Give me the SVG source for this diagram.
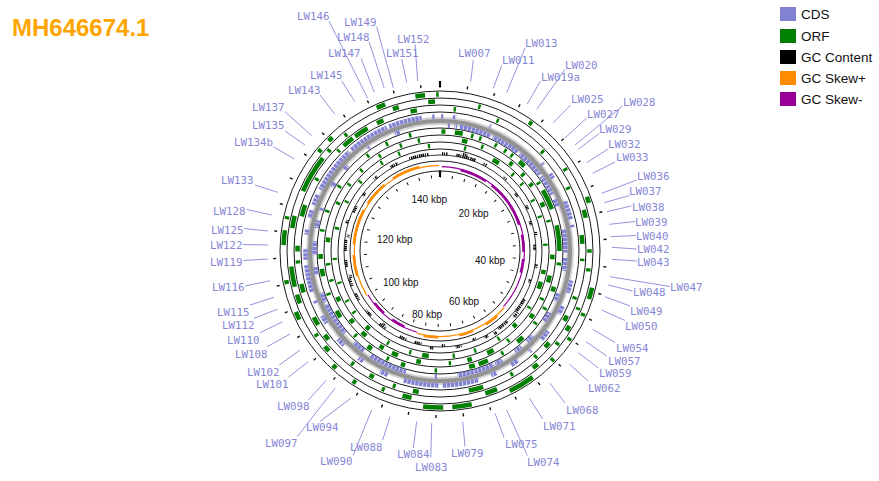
<svg xmlns="http://www.w3.org/2000/svg" width="879" height="481" viewBox="0 0 879 481">
<style>
.ring{fill:none;stroke:#1a1a1a;stroke-width:1}
.orf{fill:none;stroke:#008000;stroke-width:4.5}
.cds{fill:none;stroke:#8282d4;stroke-width:4.5}
.tk{fill:none;stroke:#111;stroke-width:3}
.lb{font-family:"DejaVu Sans Mono",monospace;font-size:10.8px;fill:#8686d6}
.ld{stroke:#9494dc;stroke-width:1}
.kb{font-family:"Liberation Sans",Arial,sans-serif;font-size:10px;fill:#111}
.lg{font-family:"Liberation Sans",Arial,sans-serif;font-size:13.5px;fill:#111}
</style>
<defs>
<mask id="spk" maskUnits="userSpaceOnUse" x="0" y="0" width="879" height="481">
<circle cx="440" cy="251" r="96" fill="none" stroke="#fff" stroke-width="12" stroke-dasharray="1.2 0.5 1.6 0.8 0.9 1.1 1.4 0.6"/>
</mask>
<mask id="cdsm" maskUnits="userSpaceOnUse" x="0" y="0" width="879" height="481">
<circle cx="440" cy="251" r="134.5" fill="none" stroke="#fff" stroke-width="6" stroke-dasharray="3.3 0.7"/>
<circle cx="440" cy="251" r="125.5" fill="none" stroke="#fff" stroke-width="6" stroke-dasharray="3.3 0.7"/>
</mask>
</defs>
<rect width="879" height="481" fill="#fff"/>
<text x="12" y="36" font-family="Liberation Sans,Arial,sans-serif" font-size="24" font-weight="bold" fill="#FFA500">MH646674.1</text>

<g id="legend">
<rect x="780" y="7" width="16" height="14" fill="#8282d4"/><text class="lg" x="801" y="19">CDS</text>
<rect x="780" y="29" width="16" height="14" fill="#008000"/><text class="lg" x="801" y="41">ORF</text>
<rect x="780" y="50" width="16" height="14" fill="#000"/><text class="lg" x="801" y="62">GC Content</text>
<rect x="780" y="71" width="16" height="14" fill="#FF8C00"/><text class="lg" x="801" y="83">GC Skew+</text>
<rect x="780" y="92" width="16" height="14" fill="#990099"/><text class="lg" x="801" y="104">GC Skew-</text>
</g>

<g id="map">
<circle class="ring" cx="440" cy="251" r="160"/>
<circle class="ring" cx="440" cy="251" r="153"/>
<circle class="ring" cx="440" cy="251" r="146"/>
<circle class="ring" cx="440" cy="251" r="139"/>
<circle class="ring" cx="440" cy="251" r="123"/>
<circle class="ring" cx="440" cy="251" r="116"/>
<circle class="ring" cx="440" cy="251" r="109"/>
<circle class="ring" cx="440" cy="251" r="102"/>
<circle class="ring" cx="440" cy="251" r="90"/>
<circle class="ring" cx="440" cy="251" r="80"/>
<circle cx="440" cy="251" r="130" fill="none" stroke="#c8c8c8" stroke-width="8" opacity="0.8"/>
<circle cx="440" cy="251" r="130" fill="none" stroke="#939393" stroke-width="4.2"/>
</g>

<g id="tracks" transform="rotate(-90 440 251)">
<circle id="orf-f3" class="orf" cx="440" cy="251" r="156.5" pathLength="1508" stroke-dasharray="0 145 6 141 10 132 18 23 5 38 5 36 5 38 41 62 30 14 31 110 6 32 7 87 13 45 6 54 23 17 5 110 6 17 8 82 14 48 15 17 4 100"/>
<circle id="orf-f2" class="orf" cx="440" cy="251" r="149.5" pathLength="1508" stroke-dasharray="0 62 4 170 5 69 13 51 6 25 5 60 4 29 9 23 5 43 10 67 20 120 15 30 5 105 10 20 5 55 15 13 33 62 20 42 62 13 5 32 5 84 10 48 11 100"/>
<circle id="orf-f1" class="orf" cx="440" cy="251" r="142.5" pathLength="1508" stroke-dasharray="0 23 4 71 4 88 5 70 5 80 15 25 4 61 5 30 10 45 10 20 5 45 5 50 25 85 10 30 5 35 8 32 5 55 10 20 15 45 15 35 5 15 10 50 20 45 5 56 4 10 20 5 25 18 12 48 11 100"/>
<g mask="url(#cdsm)">
<circle id="cds-fwd" class="cds" cx="440" cy="251" r="134.5" pathLength="1508" stroke-dasharray="0 2 5 16 6 61 4 111 5 20 10 46 34 10 5 95 23 25 16 36 20 25 5 25 15 30 10 24 66 6 64 30 15 35 10 35 15 35 15 25 5 16 50 9 20 25 10 20 15 10 20 10 85 5 75 5 60 19 5 100"/>
<circle id="cds-rev" class="cds" cx="440" cy="251" r="125.5" pathLength="1508" stroke-dasharray="0 14 5 9 5 5 62 4 56 5 55 5 40 10 15 45 45 10 25 45 15 25 20 35 15 15 15 30 15 3 72 40 5 55 75 15 25 25 66 4 20 35 15 23 27 25 15 20 5 45 10 30 10 50 5 55 10 100"/>
</g>
<circle id="orf-r1" class="orf" cx="440" cy="251" r="119.5" pathLength="1508" stroke-dasharray="0 3 8 19 16 17 5 12 5 29 5 17 5 11 5 17 14 42 5 14 42 34 52 23 6 44 10 35 5 30 5 35 15 35 5 30 20 8 12 65 5 60 9 26 5 35 10 30 5 45 15 35 5 35 15 20 10 45 5 35 5 50 5 80 5 40 5 45 5 100"/>
<circle id="orf-r2" class="orf" cx="440" cy="251" r="112.5" pathLength="1508" stroke-dasharray="0 47 12 31 5 65 8 27 7 20 8 40 10 30 5 70 10 35 15 35 5 35 10 65 5 35 15 35 10 35 5 60 10 41 14 20 10 36 12 27 10 45 10 35 5 30 5 45 10 73 6 41 5 35 5 45 5 45 5 35 5 100"/>
<circle id="orf-r3" class="orf" cx="440" cy="251" r="105.5" pathLength="1508" stroke-dasharray="0 55 5 66 16 38 5 25 5 40 5 35 5 60 5 55 10 18 17 45 5 45 10 40 5 55 5 45 5 55 15 25 5 50 5 50 10 40 5 25 5 40 5 50 5 65 6 59 5 50 5 60 5 40 5 65 5 100"/>
</g>

<g id="gc-content">
<circle cx="440" cy="251" r="96" fill="none" stroke="#000" stroke-width="0.8"/>
<g mask="url(#spk)" transform="rotate(-90 440 251)">
<circle cx="440" cy="251" r="97.4" fill="none" stroke="#000" stroke-width="2.8" pathLength="1508" stroke-dasharray="0 5 15 20 50 20 10 50 10 80 10 60 10 70 10 80 40 30 30 30 10 60 15 55 10 420 10 120 10 40 20 30 50 100"/>
<circle cx="440" cy="251" r="99" fill="none" stroke="#000" stroke-width="3.2" pathLength="1508" stroke-dasharray="0 55 12 470 15 55 8 925 20 100"/>
<circle cx="440" cy="251" r="94.6" fill="none" stroke="#000" stroke-width="2.8" pathLength="1508" stroke-dasharray="0 220 10 70 10 50 15 75 10 200 10 70 10 50 20 20 20 40 20 30 20 30 20 20 20 30 20 20 30 70 20 30 10 300"/>
<circle cx="440" cy="251" r="93" fill="none" stroke="#000" stroke-width="3.2" pathLength="1508" stroke-dasharray="0 905 10 145 10 95 8 500"/>
</g>
</g>

<g id="gc-skew" transform="rotate(-90 440 251)">
<circle cx="440" cy="251" r="85.6" fill="none" stroke="#FF8C00" stroke-width="1.2" pathLength="1508" stroke-dasharray="0 550 270 180 505 100"/>
<circle cx="440" cy="251" r="86.4" fill="none" stroke="#FF8C00" stroke-width="2.6" pathLength="1508" stroke-dasharray="0 580 40 40 40 60 40 260 60 30 100 20 70 30 80 100"/>
<circle cx="440" cy="251" r="84.4" fill="none" stroke="#990099" stroke-width="1.2" pathLength="1508" stroke-dasharray="0 5 545 270 180 600"/>
<circle cx="440" cy="251" r="83.6" fill="none" stroke="#990099" stroke-width="2.6" pathLength="1508" stroke-dasharray="0 60 80 20 140 30 50 20 40 420 40 30 40 600"/>
</g>

<g id="ticks">
<g transform="rotate(-90 440 251)">
<circle class="tk" cx="440" cy="251" r="74.5" pathLength="1508" stroke-dasharray="3.2 36.8" stroke-dashoffset="1.6"/>
<circle class="tk" cx="440" cy="251" r="165.5" pathLength="1508" stroke-dasharray="2 38" stroke-dashoffset="1"/>
</g>
<line x1="440" y1="170.5" x2="440" y2="177" stroke="#000" stroke-width="2.2"/>
<line x1="440" y1="81" x2="440" y2="87.5" stroke="#000" stroke-width="2.2"/>
<text class="kb" x="411.5" y="203">140 kbp</text>
<text class="kb" x="458.5" y="217">20 kbp</text>
<text class="kb" x="377" y="243">120 kbp</text>
<text class="kb" x="475" y="263.5">40 kbp</text>
<text class="kb" x="383" y="286">100 kbp</text>
<text class="kb" x="449" y="305">60 kbp</text>
<text class="kb" x="412" y="317.5">80 kbp</text>
</g>

<g id="connectors">
<line class="ld" x1="470.7" y1="81.7" x2="473.3" y2="60"/>
<line class="ld" x1="493.3" y1="88.3" x2="501.7" y2="65.5"/>
<line class="ld" x1="506.7" y1="92.7" x2="525" y2="48"/>
<line class="ld" x1="527.3" y1="104" x2="540.5" y2="81"/>
<line class="ld" x1="536.7" y1="109.3" x2="565" y2="69.5"/>
<line class="ld" x1="553.3" y1="122.7" x2="570.7" y2="105"/>
<line class="ld" x1="565" y1="138" x2="586.7" y2="118"/>
<line class="ld" x1="575" y1="145" x2="622.7" y2="106"/>
<line class="ld" x1="578.3" y1="149.3" x2="599.3" y2="133.5"/>
<line class="ld" x1="586.7" y1="162.7" x2="608" y2="149"/>
<line class="ld" x1="592.7" y1="173.3" x2="615" y2="162"/>
<line class="ld" x1="601.7" y1="193.3" x2="636.7" y2="180"/>
<line class="ld" x1="604.3" y1="202.7" x2="629.3" y2="195.5"/>
<line class="ld" x1="606.7" y1="211.7" x2="631.5" y2="206"/>
<line class="ld" x1="609.3" y1="224.3" x2="635" y2="221.5"/>
<line class="ld" x1="610.7" y1="236.7" x2="636" y2="235.5"/>
<line class="ld" x1="611.7" y1="247.3" x2="636.7" y2="249"/>
<line class="ld" x1="611.7" y1="259.3" x2="636.7" y2="261"/>
<line class="ld" x1="610" y1="276.7" x2="670" y2="286.5"/>
<line class="ld" x1="608.3" y1="285" x2="632.7" y2="291"/>
<line class="ld" x1="605" y1="296.7" x2="630" y2="306"/>
<line class="ld" x1="601.7" y1="310" x2="625" y2="320.5"/>
<line class="ld" x1="592.7" y1="329.3" x2="615" y2="342.5"/>
<line class="ld" x1="586" y1="341.7" x2="606.7" y2="356"/>
<line class="ld" x1="578.3" y1="352.7" x2="598.3" y2="368"/>
<line class="ld" x1="569.3" y1="364" x2="588.3" y2="381"/>
<line class="ld" x1="550" y1="383.3" x2="565" y2="403"/>
<line class="ld" x1="529.3" y1="398.3" x2="542.7" y2="419"/>
<line class="ld" x1="506.7" y1="410" x2="527.3" y2="455.5"/>
<line class="ld" x1="495" y1="413.3" x2="504" y2="437.5"/>
<line class="ld" x1="462.7" y1="421.7" x2="465" y2="446.5"/>
<line class="ld" x1="431.7" y1="423.3" x2="430.7" y2="457.5"/>
<line class="ld" x1="416.7" y1="421.7" x2="413.3" y2="448"/>
<line class="ld" x1="390" y1="416.7" x2="382.7" y2="440"/>
<line class="ld" x1="371.7" y1="410" x2="353.3" y2="455"/>
<line class="ld" x1="350.7" y1="398.3" x2="320" y2="421.5"/>
<line class="ld" x1="335" y1="388.3" x2="297.3" y2="436.5"/>
<line class="ld" x1="326" y1="380.7" x2="308.3" y2="400"/>
<line class="ld" x1="308.3" y1="361.7" x2="288.3" y2="377.3"/>
<line class="ld" x1="300" y1="350" x2="279.3" y2="365"/>
<line class="ld" x1="290" y1="334" x2="267.3" y2="346.7"/>
<line class="ld" x1="282.7" y1="321.7" x2="260" y2="332.7"/>
<line class="ld" x1="277.3" y1="309.3" x2="254" y2="318.3"/>
<line class="ld" x1="274" y1="297.3" x2="250" y2="305"/>
<line class="ld" x1="270" y1="280.7" x2="245" y2="286"/>
<line class="ld" x1="268.3" y1="259" x2="243.3" y2="260.5"/>
<line class="ld" x1="268.3" y1="245" x2="242.7" y2="244.5"/>
<line class="ld" x1="268.3" y1="231" x2="244" y2="228.5"/>
<line class="ld" x1="271.7" y1="215" x2="246.7" y2="209.5"/>
<line class="ld" x1="277.7" y1="192.3" x2="255" y2="185"/>
<line class="ld" x1="294.3" y1="159" x2="273.3" y2="146.7"/>
<line class="ld" x1="305" y1="145" x2="285" y2="131"/>
<line class="ld" x1="311.7" y1="135.7" x2="285" y2="111.7"/>
<line class="ld" x1="335" y1="114.3" x2="320" y2="95"/>
<line class="ld" x1="355" y1="101.7" x2="341.7" y2="81"/>
<line class="ld" x1="367.7" y1="98.3" x2="329" y2="21"/>
<line class="ld" x1="374.3" y1="92.3" x2="361" y2="58.3"/>
<line class="ld" x1="384.3" y1="88.3" x2="369" y2="41.7"/>
<line class="ld" x1="393.3" y1="87.7" x2="376.7" y2="26.7"/>
<line class="ld" x1="406.7" y1="82.3" x2="401.7" y2="59"/>
<line class="ld" x1="417.7" y1="81" x2="415" y2="44.3"/>
</g>

<g id="labels">
<text id="LW007" class="lb" x="458" y="57">LW007</text>
<text id="LW011" class="lb" x="502" y="64">LW011</text>
<text id="LW013" class="lb" x="525" y="47">LW013</text>
<text id="LW019a" class="lb" x="541" y="80.5">LW019a</text>
<text id="LW020" class="lb" x="565" y="69">LW020</text>
<text id="LW025" class="lb" x="571" y="103">LW025</text>
<text id="LW027" class="lb" x="587" y="118">LW027</text>
<text id="LW028" class="lb" x="623" y="105.5">LW028</text>
<text id="LW029" class="lb" x="599" y="133">LW029</text>
<text id="LW032" class="lb" x="608" y="148">LW032</text>
<text id="LW033" class="lb" x="616" y="160.5">LW033</text>
<text id="LW036" class="lb" x="637" y="180">LW036</text>
<text id="LW037" class="lb" x="629" y="195">LW037</text>
<text id="LW038" class="lb" x="632" y="210.5">LW038</text>
<text id="LW039" class="lb" x="635" y="225.5">LW039</text>
<text id="LW040" class="lb" x="636" y="239.5">LW040</text>
<text id="LW042" class="lb" x="637" y="253">LW042</text>
<text id="LW043" class="lb" x="637" y="265.5">LW043</text>
<text id="LW047" class="lb" x="670" y="290.5">LW047</text>
<text id="LW048" class="lb" x="633" y="295.5">LW048</text>
<text id="LW049" class="lb" x="630" y="315">LW049</text>
<text id="LW050" class="lb" x="625" y="329.5">LW050</text>
<text id="LW054" class="lb" x="616" y="351.5">LW054</text>
<text id="LW057" class="lb" x="608" y="364.5">LW057</text>
<text id="LW059" class="lb" x="599" y="377">LW059</text>
<text id="LW062" class="lb" x="588" y="392">LW062</text>
<text id="LW068" class="lb" x="566" y="414">LW068</text>
<text id="LW071" class="lb" x="543" y="430">LW071</text>
<text id="LW074" class="lb" x="527" y="465.5">LW074</text>
<text id="LW075" class="lb" x="505" y="448">LW075</text>
<text id="LW079" class="lb" x="451" y="456.5">LW079</text>
<text id="LW083" class="lb" x="415" y="470.5">LW083</text>
<text id="LW084" class="lb" x="397" y="458">LW084</text>
<text id="LW088" class="lb" x="350" y="450.5">LW088</text>
<text id="LW090" class="lb" x="320" y="465">LW090</text>
<text id="LW094" class="lb" x="306" y="431">LW094</text>
<text id="LW097" class="lb" x="265" y="446.5">LW097</text>
<text id="LW098" class="lb" x="277" y="410">LW098</text>
<text id="LW101" class="lb" x="256" y="388">LW101</text>
<text id="LW102" class="lb" x="247" y="375.5">LW102</text>
<text id="LW108" class="lb" x="235" y="358">LW108</text>
<text id="LW110" class="lb" x="227" y="344">LW110</text>
<text id="LW112" class="lb" x="222" y="329">LW112</text>
<text id="LW115" class="lb" x="217" y="315.5">LW115</text>
<text id="LW116" class="lb" x="212" y="290.5">LW116</text>
<text id="LW119" class="lb" x="210" y="265.5">LW119</text>
<text id="LW122" class="lb" x="210" y="249">LW122</text>
<text id="LW125" class="lb" x="211" y="234">LW125</text>
<text id="LW128" class="lb" x="213" y="215">LW128</text>
<text id="LW133" class="lb" x="221" y="184">LW133</text>
<text id="LW134b" class="lb" x="234" y="145.5">LW134b</text>
<text id="LW135" class="lb" x="252" y="129">LW135</text>
<text id="LW137" class="lb" x="252" y="110.5">LW137</text>
<text id="LW143" class="lb" x="288" y="94">LW143</text>
<text id="LW145" class="lb" x="310" y="79">LW145</text>
<text id="LW146" class="lb" x="297" y="19.5">LW146</text>
<text id="LW147" class="lb" x="328" y="57">LW147</text>
<text id="LW148" class="lb" x="337" y="41">LW148</text>
<text id="LW149" class="lb" x="344" y="25.5">LW149</text>
<text id="LW151" class="lb" x="386" y="57">LW151</text>
<text id="LW152" class="lb" x="397" y="43">LW152</text>
</g>
</svg>
